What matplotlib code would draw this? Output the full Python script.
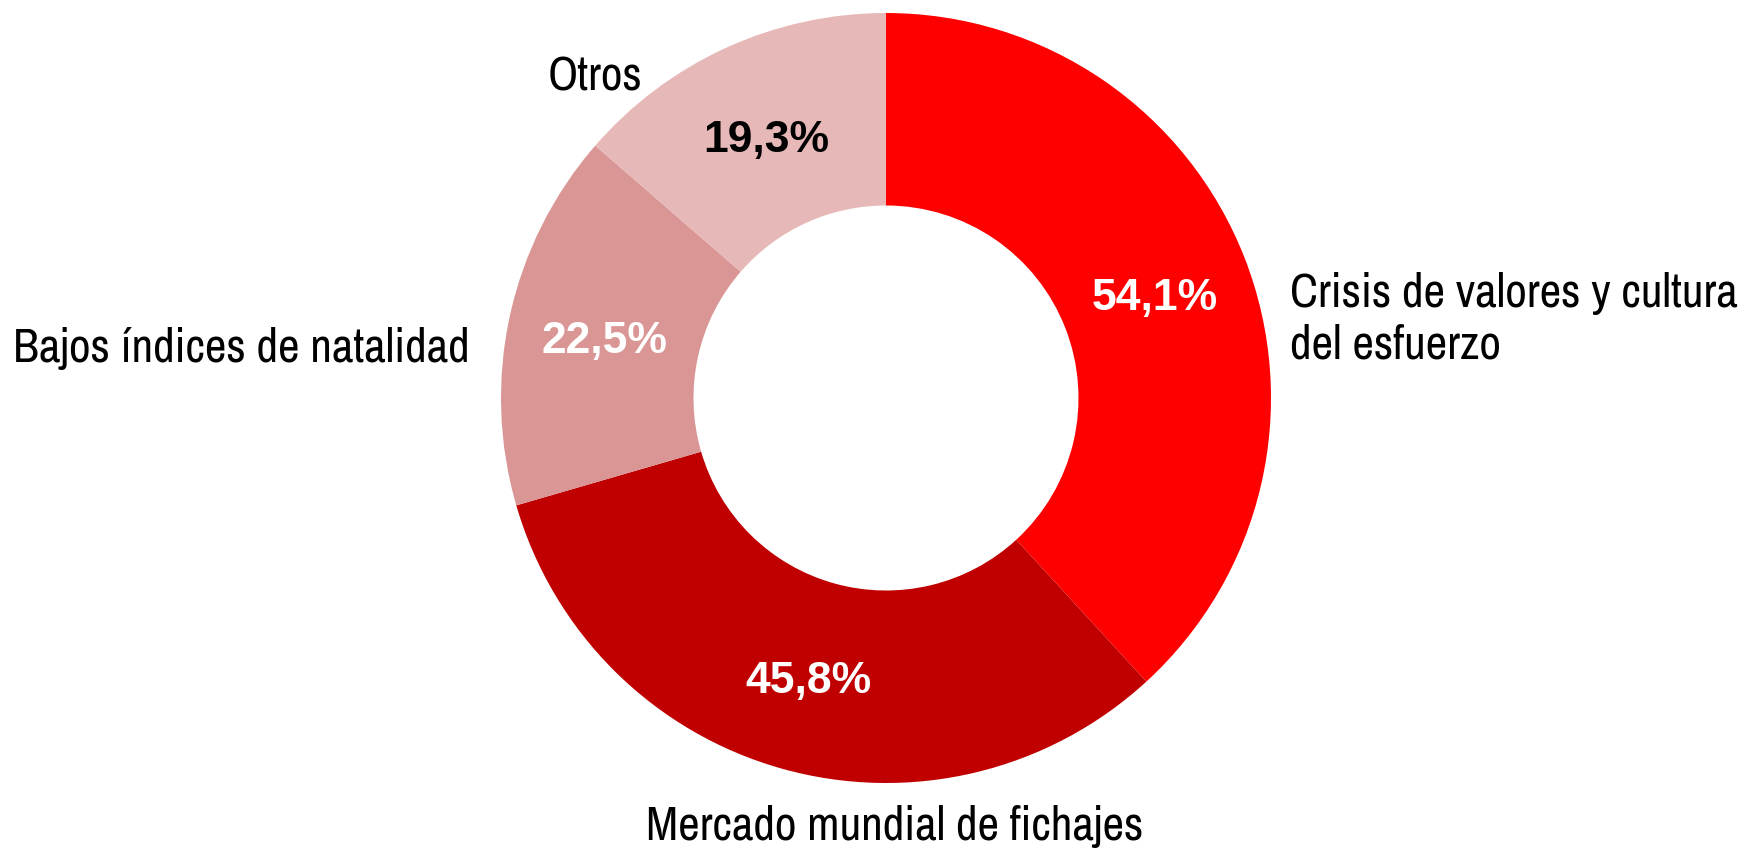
import matplotlib
matplotlib.use("Agg")
import matplotlib.pyplot as plt
import numpy as np

categories = ["Crisis de valores y cultura\ndel esfuerzo", "Mercado mundial de fichajes",
              "Bajos índices de natalidad", "Otros"]
values = [54.1, 45.8, 22.5, 19.3]
colors = ["#FF0000", "#C00000", "#D99694", "#E6B9B8"]
pct_colors = ["white", "white", "white", "black"]

W, H = 1744, 849
fig = plt.figure(figsize=(W / 100, H / 100), dpi=100)
ax = fig.add_axes([0, 0, 1, 1])

cx, cy, R = 886, H - 398, 385
wedges, _ = ax.pie(values, colors=colors, startangle=90, counterclock=False,
                   center=(cx, cy), radius=R, frame=True,
                   wedgeprops=dict(width=R * 0.5, linewidth=0))
ax.set_xlim(0, W)
ax.set_ylim(0, H)
ax.set_aspect("equal")
ax.axis("off")

label_font = ["Archivo Narrow", "Roboto Condensed", "Liberation Sans", "DejaVu Sans"]
pct_font = ["Liberation Sans", "DejaVu Sans"]

for w, v, c in zip(wedges, values, pct_colors):
    ang = np.deg2rad((w.theta1 + w.theta2) / 2)
    r = 0.75 * R
    ax.text(cx + r * np.cos(ang), cy + r * np.sin(ang) - 5, f"{v:.1f}".replace(".", ",") + "%",
            ha="center", va="center", fontsize=32, fontweight="bold",
            color=c, family=pct_font)

fs = 34
ax.text(1290, H - 319, categories[0], ha="left", va="center", fontsize=fs,
        family=label_font, linespacing=1.25)
ax.text(895, H - 840, categories[1], ha="center", va="baseline", fontsize=fs,
        family=label_font)
ax.text(470, H - 362, categories[2], ha="right", va="baseline", fontsize=fs,
        family=label_font)
ax.text(642, H - 90, categories[3], ha="right", va="baseline", fontsize=fs,
        family=label_font)

fig.savefig("out.png", dpi=100, facecolor="white")
